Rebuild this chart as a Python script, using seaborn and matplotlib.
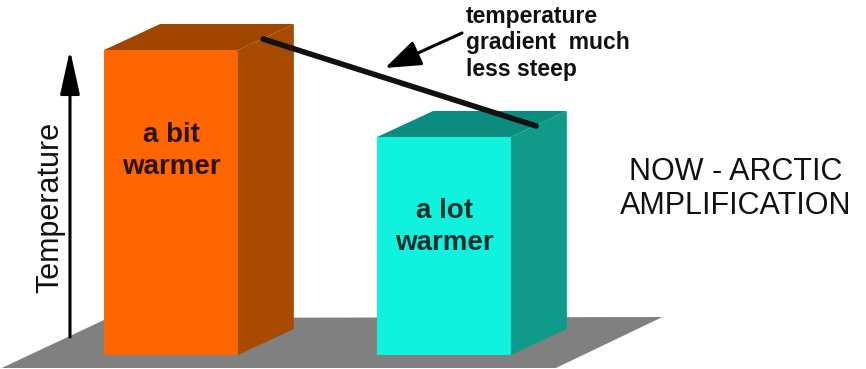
import matplotlib
matplotlib.use("Agg")
import matplotlib.pyplot as plt
import seaborn as sns

# Data: two "warming" columns, heights in arbitrary temperature units
categories = ["a bit\nwarmer", "a lot\nwarmer"]
warming = [305, 218]
front_colors = ["#FF6600", "#10F2DE"]
side_colors = ["#A84A00", "#0F9A8A"]
top_colors = ["#A04500", "#0C8C7E"]
text_colors = ["#2B1204", "#0B2F2C"]

# pseudo-3D look
bar_width = 0.49
depth_x = 0.205
depth_y = 26
floor_x = [-0.62, -0.23, 1.80, 1.41]
floor_y = [-13, 37, 38, -13]

sns.set_style("white")
plt.rcParams["font.family"] = ["Liberation Sans", "DejaVu Sans"]

fig = plt.figure(figsize=(8.66, 3.69), dpi=100)
ax = fig.add_axes([0, 0, 1, 1])

# grey floor
ax.fill(floor_x, floor_y, color="#808080", zorder=0.5, lw=0)

# front faces via seaborn
sns.barplot(x=categories, y=warming, hue=categories, palette=front_colors,
            width=bar_width, saturation=1, legend=False, ax=ax, zorder=2,
            linewidth=0, edgecolor="none")

for i, h in enumerate(warming):
    xl = i - bar_width / 2
    xr = i + bar_width / 2
    # side face
    ax.fill([xr, xr + depth_x, xr + depth_x, xr], [0, depth_y, h + depth_y, h],
            color=side_colors[i], lw=0, zorder=2)
    # top face
    ax.fill([xl, xl + depth_x, xr + depth_x, xr], [h, h + depth_y, h + depth_y, h],
            color=top_colors[i], lw=0, zorder=2)
    ax.text(i, h * [0.67, 0.585][i], categories[i], ha="center", va="center",
            fontsize=20, fontweight="bold", color=text_colors[i],
            linespacing=1.3, zorder=3)

# gradient line joining the tops
gx = [i + bar_width / 2 + depth_x / 2 - 0.01 for i in range(len(warming))]
gy = [h + depth_y / 2 - 2 for h in warming]
ax.plot(gx, gy, color="#111111", lw=4, solid_capstyle="round", zorder=4)

# temperature axis arrow
ax.annotate("", xy=(-0.37, 305), xytext=(-0.37, 18),
            arrowprops=dict(arrowstyle="-|>,head_length=1.35,head_width=0.3",
                            mutation_scale=20, lw=2.2, color="black",
                            shrinkA=0, shrinkB=0))
ax.text(-0.443, 148, "Temperature", rotation=90, ha="center", va="center",
        fontsize=22, color="#111111")

# annotation
ax.annotate("", xy=(0.784, 287), xytext=(1.066, 322),
            arrowprops=dict(arrowstyle="-|>,head_length=1.1,head_width=0.4",
                            mutation_scale=20, lw=2.2, color="black",
                            shrinkA=0, shrinkB=0))
ax.text(1.081, 312, "temperature\ngradient  much\nless steep", ha="left",
        va="center", fontsize=16.5, fontweight="bold", color="#111111",
        linespacing=1.2)

ax.text(2.07, 166, "NOW - ARCTIC\nAMPLIFICATION", ha="center", va="center",
        fontsize=22, color="#111111", linespacing=1.18)

ax.set_xlim(-171 / 273, (866 - 171) / 273)
ax.set_ylim(-14, 355)
ax.set_axis_off()

fig.savefig("out.png", dpi=100)
